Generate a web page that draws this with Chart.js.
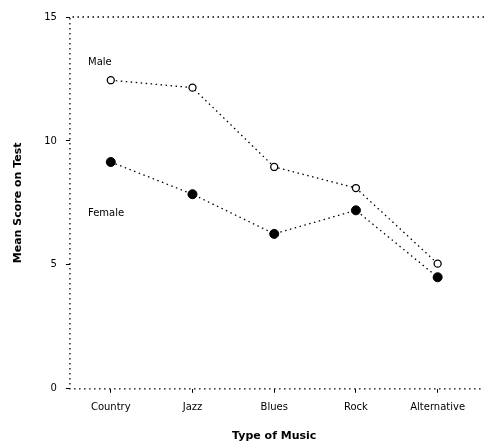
<!DOCTYPE html>
<html>
<head>
<meta charset="utf-8">
<script src="https://cdn.jsdelivr.net/npm/chart.js@4.4.1/dist/chart.umd.min.js"></script>
<style>
  html, body { margin: 0; padding: 0; background: #fff; }
  #chart { display: block; }
</style>
</head>
<body>
<canvas id="chart" width="484" height="446"></canvas>
<script>
const musicTypes = ["Country", "Jazz", "Blues", "Rock", "Alternative"];
const maleScores = [12.45, 12.15, 8.95, 8.1, 5.05];
const femaleScores = [9.15, 7.85, 6.25, 7.2, 4.5];
const yTicks = [0, 5, 10, 15];

// series name labels written next to the lines
const seriesLabels = [
    { text: "Male", x: 88, y: 62 },
    { text: "Female", x: 88, y: 213 }
];

const dots = [1.5, 3.5];
const font = { family: "DejaVu Sans", size: 10 };

const seriesLabelPlugin = {
    id: "seriesLabels",
    afterDatasetsDraw(chart) {
        const ctx = chart.ctx;
        ctx.save();
        ctx.font = "10px DejaVu Sans";
        ctx.fillStyle = "#000";
        ctx.textBaseline = "middle";
        seriesLabels.forEach(l => ctx.fillText(l.text, l.x, l.y));
        ctx.restore();
    }
};

// dotted frame: left, top and bottom edges of the plot area
const dottedFrame = {
    id: "dottedFrame",
    beforeDatasetsDraw(chart) {
        const a = chart.chartArea;
        const ctx = chart.ctx;
        ctx.save();
        ctx.strokeStyle = "#000";
        ctx.lineWidth = 1.3;
        ctx.setLineDash(dots);
        ctx.beginPath();
        ctx.moveTo(chart.width, a.top);
        ctx.lineTo(a.left, a.top);
        ctx.lineTo(a.left, a.bottom);
        ctx.lineTo(chart.width, a.bottom);
        ctx.stroke();
        ctx.restore();
    }
};

new Chart("chart", {
    type: "line",
    data: {
        labels: musicTypes,
        datasets: [
            {
                label: "Male",
                data: maleScores,
                borderColor: "#000",
                borderWidth: 1.3,
                borderDash: dots,
                pointStyle: "circle",
                pointRadius: 3.5,
                pointBackgroundColor: "#fff",
                pointBorderColor: "#000",
                pointBorderWidth: 1.3,
                tension: 0
            },
            {
                label: "Female",
                data: femaleScores,
                borderColor: "#000",
                borderWidth: 1.3,
                borderDash: dots,
                pointStyle: "circle",
                pointRadius: 4.5,
                pointBackgroundColor: "#000",
                pointBorderColor: "#000",
                pointBorderWidth: 1,
                tension: 0
            }
        ]
    },
    options: {
        responsive: false,
        animation: false,
        layout: { padding: { top: 17, right: -6, left: 10, bottom: -1 } },
        plugins: {
            legend: { display: false },
            tooltip: { enabled: false }
        },
        scales: {
            x: {
                offset: true,
                border: { display: false },
                grid: { drawOnChartArea: false, color: "#000", tickLength: 4 },
                ticks: { color: "#000", font: font, padding: 9, maxRotation: 0 },
                title: { display: true, text: "Type of Music", color: "#000", font: { family: "DejaVu Sans", size: 11, weight: "bold" }, padding: { top: 7 } }
            },
            y: {
                min: 0,
                max: 15,
                afterBuildTicks: axis => { axis.ticks = yTicks.map(v => ({ value: v })); },
                border: { display: false },
                grid: { drawOnChartArea: false, color: "#000", tickLength: 4 },
                ticks: { color: "#000", font: font, padding: 9 },
                title: { display: true, text: "Mean Score on Test", color: "#000", font: { family: "DejaVu Sans", size: 11, weight: "bold" }, padding: { top: 2, bottom: 10 } }
            }
        }
    },
    plugins: [dottedFrame, seriesLabelPlugin]
});
</script>
</body>
</html>
